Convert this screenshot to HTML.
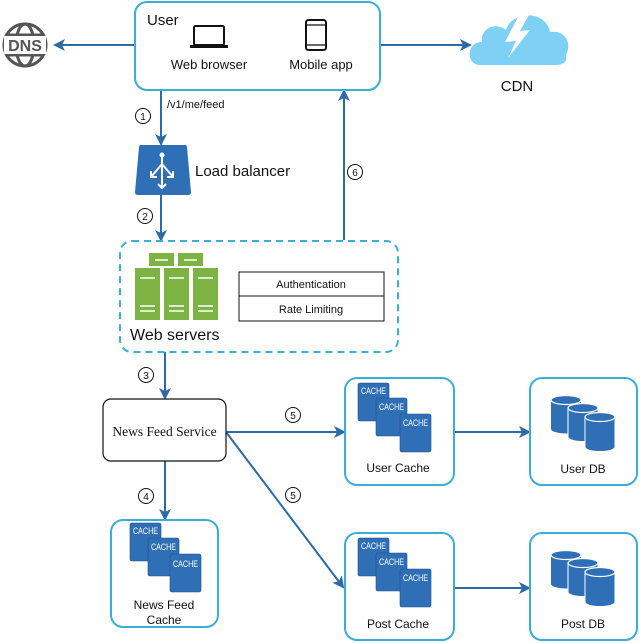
<!DOCTYPE html>
<html><head><meta charset="utf-8"><style>
html,body{margin:0;padding:0;background:#fff;}
svg{display:block;font-family:"Liberation Sans",sans-serif;}
.c{font-family:"Liberation Sans",sans-serif;font-size:9px;fill:#fff;}
</style></head><body>
<svg width="640" height="643" viewBox="0 0 640 643" xmlns="http://www.w3.org/2000/svg">
<defs>
<marker id="a" markerWidth="12" markerHeight="12" refX="10" refY="6" orient="auto" markerUnits="userSpaceOnUse">
<path d="M0,0 L12,6 L0,12 L3,6 Z" fill="#2f6aa8"/></marker>
</defs>
<g stroke="#2f6aa8" stroke-width="2" fill="none" marker-end="url(#a)">
<line x1="135" y1="45" x2="55" y2="45"/>
<line x1="380" y1="45" x2="470" y2="45"/>
<line x1="161" y1="90" x2="161" y2="144"/>
<line x1="161" y1="195" x2="161" y2="240"/>
<line x1="344" y1="240" x2="344" y2="91"/>
<line x1="165" y1="352" x2="165" y2="398"/>
<line x1="165" y1="461" x2="165" y2="519"/>
<line x1="226" y1="432" x2="344" y2="432"/>
<line x1="226" y1="432" x2="343" y2="587"/>
<line x1="454" y1="432" x2="529" y2="432"/>
<line x1="454" y1="588" x2="529" y2="588"/>
</g>
<!-- DNS -->
<g stroke="#555" stroke-width="3" fill="none">
<circle cx="25" cy="45" r="21"/>
<ellipse cx="25" cy="45" rx="9" ry="21"/>
<line x1="6" y1="35" x2="44" y2="35"/><line x1="6" y1="55" x2="44" y2="55"/>
</g>
<rect x="4" y="36" width="42" height="18" fill="#fff"/>
<text x="25" y="51" font-size="16" font-weight="bold" fill="#555" text-anchor="middle">DNS</text>
<!-- User box -->
<rect x="135" y="2" width="245" height="88" rx="12" fill="#fff" stroke="#3aaed8" stroke-width="2"/>
<text x="147" y="25" font-size="15" fill="#111">User</text>
<rect x="194" y="26" width="30" height="19" rx="1.5" fill="none" stroke="#111" stroke-width="2"/>
<rect x="190" y="45" width="38" height="3" fill="#111"/>
<rect x="306" y="20" width="20" height="30" rx="2.5" fill="none" stroke="#111" stroke-width="2"/>
<line x1="306" y1="25" x2="326" y2="25" stroke="#111" stroke-width="1.2"/><line x1="306" y1="45" x2="326" y2="45" stroke="#111" stroke-width="1.2"/>
<text x="209" y="69" font-size="13" fill="#111" text-anchor="middle">Web browser</text>
<text x="321" y="69" font-size="13" fill="#111" text-anchor="middle">Mobile app</text>
<!-- CDN -->
<path d="M480,65 C466,65 466,42 482,42 C480,28 496,22 506,30 C512,10 546,10 550,32 C566,30 572,44 566,55 C568,62 562,65 556,65 Z" fill="#7fd0f5"/>
<path d="M520,13 L505,42 L516,41 L508,58 L530,30 L520,31 L530,13 Z" fill="#fff"/>
<text x="517" y="91" font-size="15" fill="#111" text-anchor="middle">CDN</text>
<!-- labels -->
<text x="167" y="108" font-size="11" fill="#111">/v1/me/feed</text>
<g fill="none" stroke="#111" stroke-width="1"><circle cx="143" cy="116" r="7.5"/><circle cx="145" cy="216" r="7.5"/><circle cx="355" cy="172" r="7.5"/><circle cx="146" cy="375" r="7.5"/><circle cx="146" cy="496" r="7.5"/><circle cx="293" cy="415" r="7.5"/><circle cx="293" cy="495" r="7.5"/></g>
<g font-size="10" fill="#111" text-anchor="middle"><text x="143" y="120">1</text><text x="145" y="220">2</text><text x="355" y="176">6</text><text x="146" y="379">3</text><text x="146" y="500">4</text><text x="293" y="419">5</text><text x="293" y="499">5</text></g>
<!-- LB -->
<path d="M141,145 L185,145 Q187,145 187,147 L191,192 Q191,195 188,195 L138,195 Q135,195 135,192 L139,147 Q139,145 141,145 Z" fill="#2f6fb5"/>
<g stroke="#fff" stroke-width="2" fill="none"><line x1="162" y1="156" x2="162" y2="188"/><path d="M162,164 L151,177 M162,164 L173,177"/><path d="M151,171 L151,177 L157,177 M173,171 L173,177 L167,177 M158,184 L162,188 L166,184"/></g>
<circle cx="162" cy="155" r="2.5" fill="#fff"/>
<text x="195" y="176" font-size="15" fill="#111">Load balancer</text>
<!-- web servers -->
<rect x="120" y="241" width="278" height="111" rx="12" fill="none" stroke="#3aaed8" stroke-width="2" stroke-dasharray="7,5"/>
<g fill="#7cb342">
<rect x="149" y="253" width="25" height="13"/><rect x="178" y="253" width="25" height="13"/>
<rect x="135" y="268" width="25" height="52"/><rect x="164" y="268" width="25" height="52"/><rect x="193" y="268" width="25" height="52"/>
</g>
<g stroke="#fff" stroke-width="1.5"><line x1="155" y1="260" x2="168" y2="260"/><line x1="184" y1="260" x2="197" y2="260"/>
<line x1="140" y1="278" x2="155" y2="278"/><line x1="169" y1="278" x2="184" y2="278"/><line x1="198" y1="278" x2="213" y2="278"/>
<line x1="140" y1="306" x2="155" y2="306"/><line x1="169" y1="306" x2="184" y2="306"/><line x1="198" y1="306" x2="213" y2="306"/>
<line x1="140" y1="311" x2="155" y2="311"/><line x1="169" y1="311" x2="184" y2="311"/><line x1="198" y1="311" x2="213" y2="311"/></g>
<text x="130" y="340" font-size="16" fill="#111">Web servers</text>
<rect x="239" y="272" width="145" height="49" fill="#fff" stroke="#111" stroke-width="1"/>
<line x1="239" y1="296" x2="384" y2="296" stroke="#111"/>
<text x="311" y="288" font-size="11" fill="#111" text-anchor="middle">Authentication</text>
<text x="311" y="313" font-size="11" fill="#111" text-anchor="middle">Rate Limiting</text>
<!-- NFS -->
<rect x="103" y="399" width="123" height="62" rx="8" fill="#fff" stroke="#111" stroke-width="1.2"/>
<text x="164.5" y="436" font-size="13.5" font-family="Liberation Serif,serif" fill="#111" text-anchor="middle">News Feed Service</text>
<!-- boxes -->
<g fill="#fff" stroke="#3aaed8" stroke-width="2">
<rect x="111" y="520" width="107" height="107" rx="12"/>
<rect x="345" y="378" width="109" height="107" rx="12"/>
<rect x="530" y="378" width="107" height="107" rx="12"/>
<rect x="345" y="533" width="109" height="107" rx="12"/>
<rect x="530" y="533" width="107" height="107" rx="12"/>
</g>
<g font-size="12" fill="#111" text-anchor="middle">
<text x="164" y="609">News Feed</text><text x="164" y="624">Cache</text>
<text x="398" y="472">User Cache</text><text x="583" y="473">User DB</text>
<text x="398" y="628">Post Cache</text><text x="583" y="628">Post DB</text>
</g>
<!-- cache icons -->
<g transform="translate(130,523)"><rect x="0" y="0" width="31" height="38" rx="2" fill="#2f6fb5" stroke="#1d4f88" stroke-width=".6"/><text class="c" x="3" y="11" textLength="25" lengthAdjust="spacingAndGlyphs">CACHE</text><rect x="18" y="15" width="31" height="38" rx="2" fill="#2f6fb5" stroke="#1d4f88" stroke-width=".6"/><text class="c" x="21" y="27" textLength="25" lengthAdjust="spacingAndGlyphs">CACHE</text><rect x="40" y="31" width="31" height="38" rx="2" fill="#2f6fb5" stroke="#1d4f88" stroke-width=".6"/><text class="c" x="43" y="44" textLength="25" lengthAdjust="spacingAndGlyphs">CACHE</text></g>
<g transform="translate(358,383)"><rect x="0" y="0" width="31" height="38" rx="2" fill="#2f6fb5" stroke="#1d4f88" stroke-width=".6"/><text class="c" x="3" y="11" textLength="25" lengthAdjust="spacingAndGlyphs">CACHE</text><rect x="18" y="15" width="31" height="38" rx="2" fill="#2f6fb5" stroke="#1d4f88" stroke-width=".6"/><text class="c" x="21" y="27" textLength="25" lengthAdjust="spacingAndGlyphs">CACHE</text><rect x="42" y="31" width="31" height="38" rx="2" fill="#2f6fb5" stroke="#1d4f88" stroke-width=".6"/><text class="c" x="45" y="43" textLength="25" lengthAdjust="spacingAndGlyphs">CACHE</text></g>
<g transform="translate(358,538)"><rect x="0" y="0" width="31" height="38" rx="2" fill="#2f6fb5" stroke="#1d4f88" stroke-width=".6"/><text class="c" x="3" y="11" textLength="25" lengthAdjust="spacingAndGlyphs">CACHE</text><rect x="18" y="15" width="31" height="38" rx="2" fill="#2f6fb5" stroke="#1d4f88" stroke-width=".6"/><text class="c" x="21" y="27" textLength="25" lengthAdjust="spacingAndGlyphs">CACHE</text><rect x="42" y="31" width="31" height="38" rx="2" fill="#2f6fb5" stroke="#1d4f88" stroke-width=".6"/><text class="c" x="45" y="43" textLength="25" lengthAdjust="spacingAndGlyphs">CACHE</text></g>
<!-- DB icons -->
<g>
<path d="M551,400 L551,429 A15,4.5 0 0 0 581,429 L581,400 Z" fill="#2f6fb5"/><ellipse cx="566" cy="400" rx="15" ry="4.5" fill="#2f6fb5" stroke="#fff" stroke-width="1.2"/>
<path d="M568,408 L568,437 A15,4.5 0 0 0 598,437 L598,408 Z" fill="#2f6fb5" stroke="#fff" stroke-width="1"/><ellipse cx="583" cy="408" rx="15" ry="4.5" fill="#2f6fb5" stroke="#fff" stroke-width="1.2"/>
<path d="M585,417 L585,447 A15,4.5 0 0 0 615,447 L615,417 Z" fill="#2f6fb5" stroke="#fff" stroke-width="1"/><ellipse cx="600" cy="417" rx="15" ry="4.5" fill="#2f6fb5" stroke="#fff" stroke-width="1.2"/>
</g>
<g transform="translate(0,155)">
<path d="M551,400 L551,429 A15,4.5 0 0 0 581,429 L581,400 Z" fill="#2f6fb5"/><ellipse cx="566" cy="400" rx="15" ry="4.5" fill="#2f6fb5" stroke="#fff" stroke-width="1.2"/>
<path d="M568,408 L568,437 A15,4.5 0 0 0 598,437 L598,408 Z" fill="#2f6fb5" stroke="#fff" stroke-width="1"/><ellipse cx="583" cy="408" rx="15" ry="4.5" fill="#2f6fb5" stroke="#fff" stroke-width="1.2"/>
<path d="M585,417 L585,447 A15,4.5 0 0 0 615,447 L615,417 Z" fill="#2f6fb5" stroke="#fff" stroke-width="1"/><ellipse cx="600" cy="417" rx="15" ry="4.5" fill="#2f6fb5" stroke="#fff" stroke-width="1.2"/>
</g>
</svg>
</body></html>
